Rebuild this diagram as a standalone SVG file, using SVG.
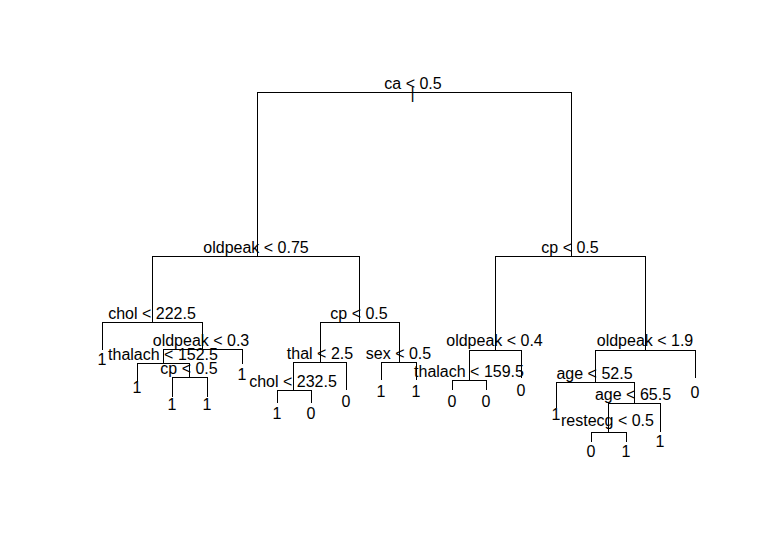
<svg xmlns="http://www.w3.org/2000/svg" width="760" height="553" viewBox="0 0 760 553">
<style>
text{font-family:"Liberation Sans",Arial,sans-serif;font-size:16px;fill:#000;text-anchor:middle}
.c path{fill:none;stroke:#000;stroke-width:1;shape-rendering:crispEdges}
</style>
<rect width="760" height="553" fill="#fff"/>
<g class="c" id="connectors">
<path d="M257.5,256.5V92.5H571.5V256.5"/>
<path d="M152.5,322.5V256.5H359.5V322.5"/>
<path d="M495.5,350.5V256.5H645.5V350.5"/>
<path d="M102.5,350V322.5H202.5V349.5"/>
<path d="M163.5,363.5V349.5H242.5V363.5"/>
<path d="M137.5,382V363.5H189.5V377.5"/>
<path d="M172.5,397V377.5H207.5V397"/>
<path d="M320.5,362.5V322.5H399.5V362.5"/>
<path d="M293.5,390.5V362.5H346.5V390"/>
<path d="M277.5,403V390.5H311.5V403"/>
<path d="M381.5,380V362.5H416.5V380"/>
<path d="M469.5,380.5V350.5H521.5V378"/>
<path d="M452.5,390V380.5H486.5V390"/>
<path d="M595.5,382.5V350.5H695.5V378"/>
<path d="M556.5,408V382.5H634.5V403.5"/>
<path d="M608.5,432.5V403.5H660.5V432"/>
<path d="M591.5,442V432.5H626.5V442"/>
</g>
<g id="n1"><text x="413" y="89">ca &lt; 0.5</text><text x="412.5" y="99">|</text></g>
<g id="n2"><text x="256" y="253">oldpeak &lt; 0.75</text></g>
<g id="n3"><text x="570" y="253">cp &lt; 0.5</text></g>
<g id="n4"><text x="152" y="319">chol &lt; 222.5</text></g>
<g id="n5"><text x="102" y="365">1</text></g>
<g id="n6"><text x="201" y="346">oldpeak &lt; 0.3</text></g>
<g id="n7"><text x="163" y="360">thalach &lt; 152.5</text></g>
<g id="n8"><text x="137" y="393">1</text></g>
<g id="n9"><text x="189" y="374">cp &lt; 0.5</text></g>
<g id="n10"><text x="172" y="410">1</text></g>
<g id="n11"><text x="207" y="410">1</text></g>
<g id="n12"><text x="242" y="380">1</text></g>
<g id="n13"><text x="359" y="319">cp &lt; 0.5</text></g>
<g id="n14"><text x="320" y="359">thal &lt; 2.5</text></g>
<g id="n15"><text x="293" y="387">chol &lt; 232.5</text></g>
<g id="n16"><text x="277" y="419">1</text></g>
<g id="n17"><text x="311" y="419">0</text></g>
<g id="n18"><text x="346" y="407">0</text></g>
<g id="n19"><text x="398.5" y="359">sex &lt; 0.5</text></g>
<g id="n20"><text x="381" y="397">1</text></g>
<g id="n21"><text x="416" y="397">1</text></g>
<g id="n22"><text x="494.5" y="346">oldpeak &lt; 0.4</text></g>
<g id="n23"><text x="469" y="377">thalach &lt; 159.5</text></g>
<g id="n24"><text x="452" y="407">0</text></g>
<g id="n25"><text x="486" y="407">0</text></g>
<g id="n26"><text x="521" y="396">0</text></g>
<g id="n27"><text x="645" y="346">oldpeak &lt; 1.9</text></g>
<g id="n28"><text x="594.5" y="379">age &lt; 52.5</text></g>
<g id="n29"><text x="556" y="420">1</text></g>
<g id="n30"><text x="633" y="400">age &lt; 65.5</text></g>
<g id="n31"><text x="607.5" y="426">restecg &lt; 0.5</text></g>
<g id="n32"><text x="591" y="457">0</text></g>
<g id="n33"><text x="626" y="457">1</text></g>
<g id="n34"><text x="660" y="447">1</text></g>
<g id="n35"><text x="695" y="398">0</text></g>
</svg>
